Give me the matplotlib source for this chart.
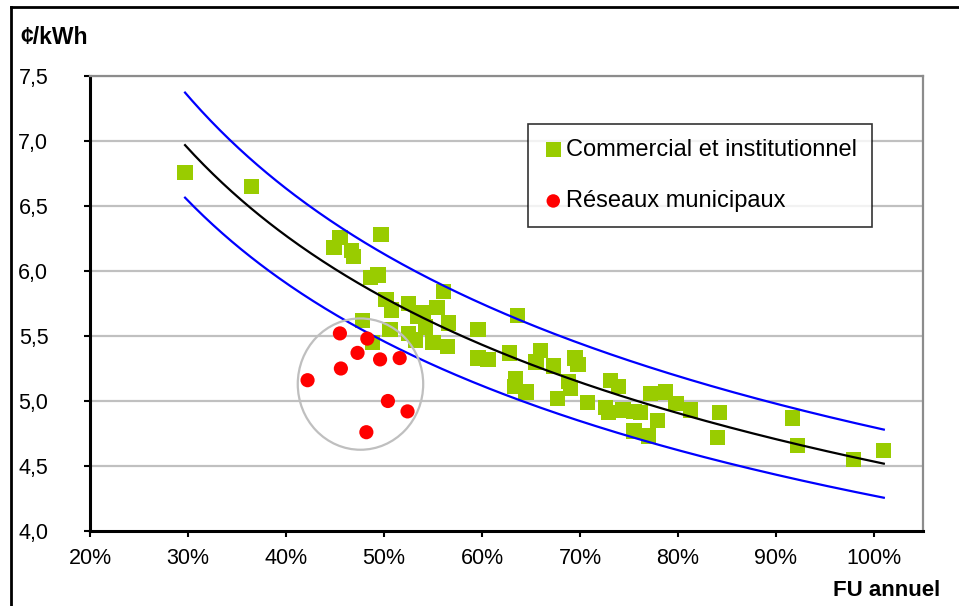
import numpy as np
import matplotlib
matplotlib.use("Agg")
import matplotlib.pyplot as plt
from matplotlib.patches import Ellipse
from matplotlib.lines import Line2D
from matplotlib.ticker import FuncFormatter, FixedLocator

plt.rcParams['font.family'] = ['Liberation Sans', 'DejaVu Sans']

# Commercial et institutionnel : facteur d'utilisation annuel (fraction) et coût (¢/kWh)
ci_fu = [0.297, 0.365, 0.449, 0.455, 0.467, 0.469, 0.497, 0.486, 0.494, 0.502,
         0.508, 0.525, 0.478, 0.488, 0.506, 0.525, 0.534, 0.540, 0.554, 0.561,
         0.566, 0.542, 0.532, 0.550, 0.565, 0.636, 0.596, 0.596, 0.606, 0.628,
         0.660, 0.655, 0.673, 0.695, 0.698, 0.634, 0.633, 0.645, 0.677, 0.688,
         0.690, 0.708, 0.731, 0.739, 0.726, 0.729, 0.744, 0.755, 0.762, 0.772,
         0.787, 0.798, 0.813, 0.779, 0.755, 0.770, 0.842, 0.840, 0.917, 0.922,
         0.979, 1.010]
ci_cost = [6.76, 6.65, 6.18, 6.26, 6.16, 6.11, 6.28, 5.95, 5.97, 5.78,
           5.70, 5.75, 5.62, 5.45, 5.55, 5.52, 5.65, 5.68, 5.72, 5.84,
           5.60, 5.57, 5.47, 5.45, 5.42, 5.66, 5.55, 5.33, 5.32, 5.37,
           5.39, 5.30, 5.27, 5.33, 5.28, 5.17, 5.11, 5.07, 5.02, 5.15,
           5.10, 4.99, 5.16, 5.11, 4.95, 4.91, 4.93, 4.92, 4.91, 5.06,
           5.07, 4.98, 4.93, 4.85, 4.77, 4.73, 4.91, 4.72, 4.87, 4.66,
           4.55, 4.62]

# Réseaux municipaux
rm_fu = [0.455, 0.483, 0.473, 0.496, 0.516, 0.456, 0.422, 0.504, 0.524, 0.482]
rm_cost = [5.52, 5.48, 5.37, 5.32, 5.33, 5.25, 5.16, 5.00, 4.92, 4.76]

# Courbe de tendance (puissance) : cost = A * FU^B, avec bande de +/- 5,8 %
fit_a = 4.534
fit_b = -0.354
band = 0.058

y_ticks = [4.0, 4.5, 5.0, 5.5, 6.0, 6.5, 7.0, 7.5]
x_ticks = [0.2, 0.3, 0.4, 0.5, 0.6, 0.7, 0.8, 0.9, 1.0]

W, H = 959, 606
fig = plt.figure(figsize=(W / 100, H / 100), dpi=100)
ax = fig.add_axes([90 / W, 1 - 531 / H, (923 - 90) / W, (531 - 76) / H])

ax.set_xlim(0.2, 1.05)
ax.set_ylim(4.0, 7.5)

for y in y_ticks[1:]:
    ax.axhline(y, color='#C0C0C0', lw=1.6, zorder=0)

xs = np.linspace(min(ci_fu), max(ci_fu), 300)
trend = fit_a * xs ** fit_b
ax.plot(xs, trend * (1 + band), color='#0000FF', lw=1.6, zorder=4)
ax.plot(xs, trend * (1 - band), color='#0000FF', lw=1.6, zorder=4)
ax.plot(xs, trend, color='black', lw=1.6, zorder=4)

ax.scatter(ci_fu, ci_cost, marker='s', s=11 ** 2, color='#99CC00',
           edgecolors='none', zorder=3, label='Commercial et institutionnel')
ax.scatter(rm_fu, rm_cost, marker='o', s=10.2 ** 2, color='#FF0000',
           edgecolors='none', zorder=5, label='Réseaux municipaux')

ax.add_patch(Ellipse((0.476, 5.13), 0.128, 1.01, fill=False,
                     edgecolor='#BFBFBF', lw=1.6, zorder=6))

ax.yaxis.set_major_locator(FixedLocator(y_ticks))
ax.xaxis.set_major_locator(FixedLocator(x_ticks))
ax.yaxis.set_major_formatter(FuncFormatter(lambda v, p: f"{v:.1f}".replace('.', ',')))
ax.xaxis.set_major_formatter(FuncFormatter(lambda v, p: f"{v * 100:.0f}%"))
ax.tick_params(axis='y', direction='out', length=4, width=1.5, pad=26,
               labelsize=15.5, colors='black')
ax.tick_params(axis='x', direction='out', length=4, width=1.5, pad=8,
               labelsize=15.5, colors='black')

for side in ('left', 'bottom'):
    ax.spines[side].set_color('black')
    ax.spines[side].set_linewidth(2.2)
for side in ('top', 'right'):
    ax.spines[side].set_color('#8C8C8C')
    ax.spines[side].set_linewidth(1.6)

leg = ax.legend(loc='upper left', bbox_to_anchor=((528 - 90) / (923 - 90), 1 - (124 - 76) / (531 - 76)),
                frameon=True, fancybox=False, edgecolor='black', fontsize=17,
                handletextpad=0.1, handlelength=0.9, labelspacing=1.25,
                borderpad=0.62, borderaxespad=0, markerscale=0.95)
leg.get_frame().set_linewidth(1.2)

fig.text(20 / W, 1 - 38 / H, '¢/kWh', fontsize=16.5, fontweight='bold',
         ha='left', va='center')
fig.text(940 / W, 1 - 591 / H, 'FU annuel', fontsize=16, fontweight='bold',
         ha='right', va='center')

# cadre extérieur du graphique
fig.add_artist(Line2D([11 / W, 1.0], [1 - 7 / H, 1 - 7 / H], color='black', lw=2,
                      transform=fig.transFigure))
fig.add_artist(Line2D([11 / W, 11 / W], [1 - 7 / H, 0.0], color='black', lw=2,
                      transform=fig.transFigure))

fig.savefig('out.png', dpi=100)
